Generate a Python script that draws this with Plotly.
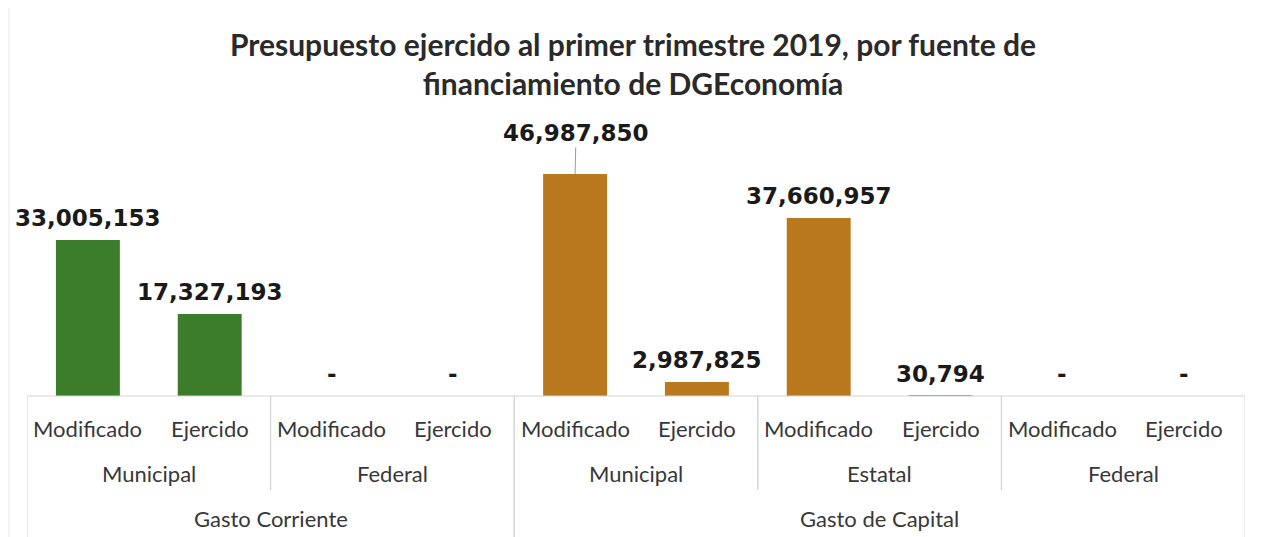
import plotly.graph_objects as go

# ---- data ----
tipo = ["Gasto Corriente"] * 4 + ["Gasto de Capital"] * 6
fuente = ["Municipal", "Municipal", "Federal", "Federal",
          "Municipal", "Municipal", "Estatal", "Estatal", "Federal", "Federal"]
concepto = ["Modificado", "Ejercido"] * 5
valores = [33005153, 17327193, 0, 0, 46987850, 2987825, 37660957, 30794, 0, 0]
colores_tipo = {"Gasto Corriente": "#3b7d2a", "Gasto de Capital": "#b9781d"}

titulo = "Presupuesto ejercido al primer trimestre 2019, por fuente de<br>financiamiento de DGEconomía"

# page body adds an 8px offset
OFF = 8
W, H = 1263 - OFF, 537 - OFF
ML, MR, MT, MB = 27 - OFF, 18, 120 - OFF, 141
plot_h = H - MT - MB
plot_w = W - ML - MR
BASE = 396  # screen row of the baseline

def py(px):
    """screen row -> paper y"""
    return -(px - BASE) / plot_h

def pxp(px):
    """screen column -> paper x"""
    return (px - 27) / plot_w

xs = list(range(len(valores)))
fig = go.Figure()
fig.add_trace(go.Bar(
    x=xs, y=valores, width=0.525,
    marker=dict(color=[colores_tipo[t] for t in tipo], line=dict(width=0)),
    hoverinfo="skip",
))

label_font = dict(family="DejaVu Sans", size=23, color="#1a1a1a")
for i, v in enumerate(valores):
    txt = f"{v:,}" if v else "-"
    if v == max(valores):
        fig.add_annotation(x=i, y=v, xref="x", yref="y", text=f"<b>{txt}</b>",
                           showarrow=True, arrowhead=0, arrowwidth=1, arrowcolor="#9a9a9a",
                           ax=1, ay=-41, standoff=0, font=label_font)
    else:
        fig.add_annotation(x=i, y=v, xref="x", yref="y", text=f"<b>{txt}</b>",
                           showarrow=False, yanchor="bottom", yshift=7, font=label_font)

cat_font = dict(family="Lato", size=22, color="#383838")
line_col = "#d4d4d4"

# level 1 labels
for i, c in enumerate(concepto):
    fig.add_annotation(x=i, y=py(428), xref="x", yref="paper", text=c,
                       showarrow=False, yanchor="middle", font=cat_font)

def runs(keys):
    out = []
    start = 0
    for i in range(1, len(keys) + 1):
        if i == len(keys) or keys[i] != keys[start]:
            out.append((start, i - 1, keys[start]))
            start = i
    return out

lvl2 = runs([t + "|" + f for t, f in zip(tipo, fuente)])
lvl3 = runs(tipo)

for s, e, k in lvl2:
    fig.add_annotation(x=(s + e) / 2, y=py(473), xref="x", yref="paper", text=k.split("|")[1],
                       showarrow=False, yanchor="middle", font=cat_font)
for s, e, k in lvl3:
    fig.add_annotation(x=(s + e) / 2, y=py(518), xref="x", yref="paper", text=k,
                       showarrow=False, yanchor="middle", font=cat_font)

# category box lines
fig.add_shape(type="line", xref="x", yref="paper", x0=-0.5, x1=len(valores) - 0.5,
              y0=0, y1=0, line=dict(color=line_col, width=1))
bounds3 = {-0.5} | {e + 0.5 for s, e, k in lvl3}
for s, e, k in lvl2:
    for b in (s - 0.5, e + 0.5):
        y1 = py(540) if b in bounds3 else py(490)
        fig.add_shape(type="line", xref="x", yref="paper", x0=b, x1=b,
                      y0=0, y1=y1, line=dict(color=line_col, width=1))

# faint chart border (left)
fig.add_shape(type="line", xref="paper", yref="paper", x0=pxp(9), x1=pxp(9),
              y0=py(8), y1=py(540), line=dict(color="#e8e8e8", width=1))

fig.update_layout(
    width=W, height=H,
    margin=dict(l=ML, r=MR, t=MT, b=MB),
    paper_bgcolor="white", plot_bgcolor="white",
    showlegend=False,
    title=dict(text=f"<b>{titulo}</b>", x=(633 - OFF) / W, xanchor="center",
               y=1 - (56 - OFF) / H, yanchor="middle",
               font=dict(family="Lato", size=30, color="#2a2a2a")),
    xaxis=dict(range=[-0.5, len(valores) - 0.5], showticklabels=False, showgrid=False,
               zeroline=False, showline=False, ticks=""),
    yaxis=dict(range=[0, 58.4e6], visible=False, showgrid=False, zeroline=False),
)

fig.write_html("out.html")
